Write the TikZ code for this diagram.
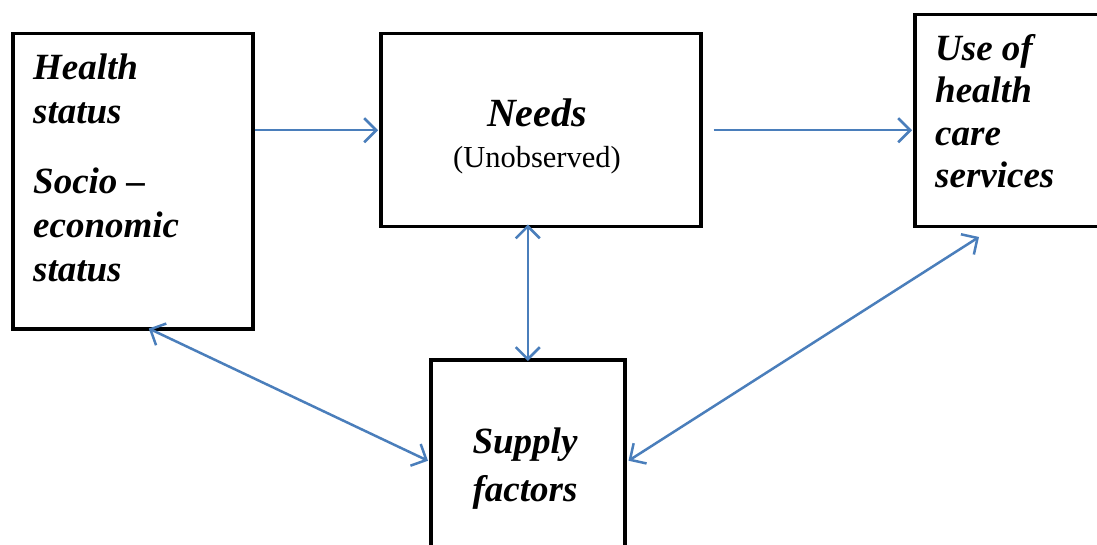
\documentclass[tikz,border=0pt]{standalone}
\usepackage{fontspec}
\setmainfont{Liberation Serif}
\usetikzlibrary{arrows.meta,calc}
\definecolor{arrblue}{RGB}{74,126,187}
\tikzset{
  box/.style={draw=black, line width=3.5pt, fill=none, inner sep=0pt, anchor=north west},
  lbl/.style={inner sep=0pt, font=\bfseries\itshape},
  tip/.tip={Straight Barb[length=12pt,width=24pt,line width=2.5pt]},
  arr/.style={draw=arrblue, line width=2.5pt, -tip},
  arrb/.style={draw=arrblue, line width=2.5pt, tip-tip}
}
\begin{document}
\begin{tikzpicture}[x=1pt,y=-1pt]
\useasboundingbox (0,0) rectangle (1097,545);
\clip (0,0) rectangle (1097,545);
% boxes
\node[box, minimum width=240pt, minimum height=295pt] (hs) at (11,32) {};
\node[box, minimum width=320pt, minimum height=193pt] (needs) at (379,32) {};
\node[box, minimum width=210pt, minimum height=212pt] (use) at (913,13) {};
\node[box, minimum width=194pt, minimum height=202pt] (supply) at (429,358) {};
% texts
\node[lbl, anchor=north west, align=left, font=\fontsize{37}{44}\selectfont\bfseries\itshape] (hstxt) at (33,54)
  {Health\\status\\[26pt]Socio --\\economic\\status};
\node[lbl, anchor=base, font=\fontsize{40}{48}\selectfont\bfseries\itshape] (needstxt) at (537,127) {Needs};
\node[inner sep=0pt, anchor=base, font=\fontsize{30.5}{36}\selectfont] (unobs) at (537,168) {(Unobserved)};
\node[lbl, anchor=north west, align=left, font=\fontsize{37}{42.5}\selectfont\bfseries\itshape] (usetxt) at (935,34)
  {Use of\\health\\care\\services};
\node[lbl, anchor=north, align=center, font=\fontsize{37}{48}\selectfont\bfseries\itshape] (suptxt) at (525,428)
  {Supply\\factors};
% connectors
\coordinate (u1) at (979,237);
\draw[arr] (hs.east |- needs.west) -- ([xshift=-1pt]needs.west);
\draw[arr] ([xshift=11pt]needs.east) -- ([xshift=-1pt]use.west |- needs.east);
\draw[arrb] ([yshift=4pt]supply.north |- needs.south) -- ([yshift=-3pt]supply.north);
\draw[arrb] ([xshift=16pt,yshift=2pt]hs.south) -- ([xshift=-1pt]supply.west);
\draw[arrb] (u1) -- ([xshift=2pt]supply.east);
\end{tikzpicture}
\end{document}
